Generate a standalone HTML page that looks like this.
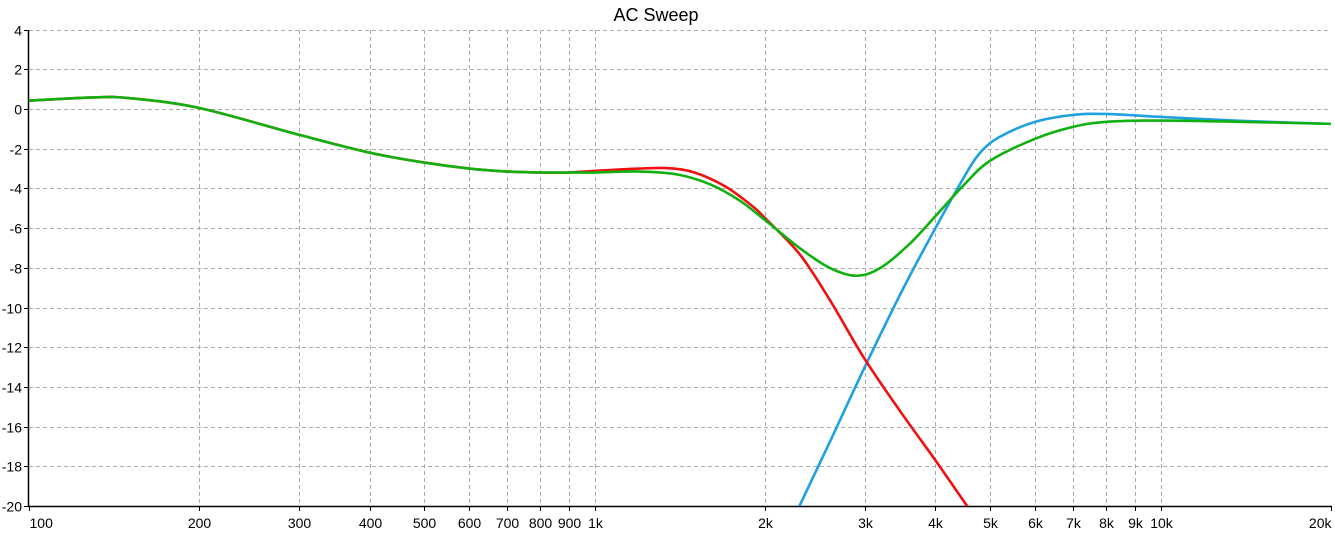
<!DOCTYPE html>
<html><head><meta charset="utf-8"><style>
html,body{margin:0;padding:0;background:#fff;}
svg{display:block;font-family:"Liberation Sans",sans-serif;}
</style></head><body>
<svg id="s" width="1335" height="534" viewBox="0 0 1335 534" xmlns="http://www.w3.org/2000/svg">
<rect width="1335" height="534" fill="#fff"/>
<text x="656" y="21" font-size="18" text-anchor="middle" fill="#000">AC Sweep</text>
<defs><clipPath id="c"><rect x="29" y="28" width="1303" height="478"/></clipPath></defs>
<g id="grid"></g>
<g id="axes"></g>
<g id="curves" clip-path="url(#c)"></g>
</svg>
<script>
const NS="http://www.w3.org/2000/svg";
const X0=29,DEC=565.8,Y0=109,DY=19.85;
const fx=f=>X0+(Math.log10(f)-2)*DEC;
const fy=v=>Y0-v*DY;
const g=document.getElementById('grid'),a=document.getElementById('axes'),c=document.getElementById('curves');
function el(p,t,at,txt){const e=document.createElementNS(NS,t);for(const k in at)e.setAttribute(k,at[k]);if(txt!=null)e.textContent=txt;p.appendChild(e);return e;}
const xt=[[100,"100"],[200,"200"],[300,"300"],[400,"400"],[500,"500"],[600,"600"],[700,"700"],[800,"800"],[900,"900"],[1000,"1k"],[2000,"2k"],[3000,"3k"],[4000,"4k"],[5000,"5k"],[6000,"6k"],[7000,"7k"],[8000,"8k"],[9000,"9k"],[10000,"10k"],[20000,"20k"]];
for(const [f,l] of xt){const x=Math.round(fx(f))+0.5;
 if(f>100&&f<20000)el(g,'line',{x1:x,y1:30,x2:x,y2:506,stroke:'#aaa','stroke-dasharray':'4,3'});
 el(a,'line',{x1:x,y1:506,x2:x,y2:511,stroke:'#000'});
 el(a,'text',{x:x,y:528,'font-size':14,'text-anchor':f==20000?'end':(f==100?'start':'middle'),fill:'#000'},l);}
for(let v=4;v>=-20;v-=2){const y=Math.round(fy(v))+0.5;
 if(v>-20)el(g,'line',{x1:29,y1:y,x2:1331,y2:y,stroke:'#aaa','stroke-dasharray':'4,3'});
 el(a,'line',{x1:24,y1:y,x2:29,y2:y,stroke:'#000'});
 el(a,'text',{x:22,y:y+5,'font-size':14,'text-anchor':'end',fill:'#000'},String(v));}
el(a,'line',{x1:28.5,y1:30,x2:28.5,y2:507,stroke:'#000','stroke-width':1.5});
el(a,'line',{x1:28,y1:506.5,x2:1332,y2:506.5,stroke:'#000','stroke-width':1.5});
const base=[[100,0.42],[130,0.58],[150,0.55],[200,0.05],[300,-1.3],[400,-2.2],[500,-2.7],[600,-3.0],[700,-3.15],[800,-3.2],[900,-3.2]];
const green=base.concat([[1000,-3.2],[1200,-3.15],[1400,-3.3],[1600,-3.8],[1800,-4.6],[2000,-5.6],[2300,-7.0],[2600,-8.0],[2900,-8.4],[3200,-8.0],[3600,-6.8],[4000,-5.4],[4500,-3.8],[5000,-2.6],[6000,-1.5],[7000,-0.9],[8000,-0.65],[10000,-0.58],[14000,-0.65],[20000,-0.75]]);
const red=base.concat([[1000,-3.12],[1200,-3.0],[1350,-2.98],[1500,-3.2],[1700,-3.9],[1900,-4.9],[2000,-5.5],[2300,-7.3],[2600,-9.6],[3000,-12.6],[3500,-15.4],[4000,-17.7],[4600,-20.2],[5000,-21.7]]);
const blue=[[2100,-22.3],[2300,-20],[2600,-16.8],[3000,-13.0],[3500,-9.1],[4000,-6.0],[4500,-3.4],[4800,-2.2],[5200,-1.4],[6000,-0.65],[7000,-0.3],[8000,-0.25],[10000,-0.4],[14000,-0.6],[20000,-0.75]];
function path(pts,col){const P=pts.map(([f,v])=>[fx(f),fy(v)]);let d="M"+P[0][0]+","+P[0][1];
 for(let i=0;i<P.length-1;i++){const p0=P[i-1]||P[i],p1=P[i],p2=P[i+1],p3=P[i+2]||P[i+1];
  const c1=[p1[0]+(p2[0]-p0[0])/6,p1[1]+(p2[1]-p0[1])/6],c2=[p2[0]-(p3[0]-p1[0])/6,p2[1]-(p3[1]-p1[1])/6];
  d+=" C"+c1+" "+c2+" "+p2;}
 el(c,'path',{d:d,fill:'none',stroke:col,'stroke-width':2.6,'stroke-linejoin':'round'});}
path(blue,'#1fa0e0');path(red,'#f01010');path(green,'#10b010');
</script>
</body></html>
